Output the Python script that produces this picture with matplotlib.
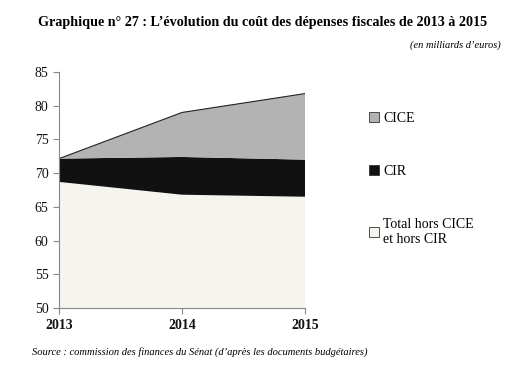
import matplotlib.pyplot as plt
import numpy as np

years = [2013, 2014, 2015]
total_hors = [68.7, 66.8, 66.5]
cir = [3.45, 5.6, 5.5]
cice = [0.0, 6.6, 9.8]

labels = ["CICE", "CIR", "Total hors CICE\net hors CIR"]
colors = ["#b3b3b3", "#111111", "#f5f4ee"]

plt.rcParams['font.family'] = ['Liberation Serif', 'DejaVu Serif']

fig = plt.figure(figsize=(5.19, 3.67), dpi=100)
ax = fig.add_axes([0.1137, 0.1608, 0.474, 0.643])

y0 = np.full(len(years), 50.0)
y1 = np.array(total_hors)
y2 = y1 + np.array(cir)
y3 = y2 + np.array(cice)

h_tot = ax.fill_between(years, y0, y1, facecolor=colors[2], edgecolor="none")
h_cir = ax.fill_between(years, y1, y2, facecolor=colors[1], edgecolor="none")
h_cice = ax.fill_between(years, y2, y3, facecolor=colors[0], edgecolor="none")
ax.plot(years, y3, color="#222222", lw=0.8)
ax.plot([years[-1], years[-1]], [50, y3[-1]], color="#222222", lw=0.6)

ax.set_xlim(2013, 2015)
ax.set_ylim(50, 85)
ax.set_yticks(range(50, 90, 5))
ax.set_xticks(years)
for s in ["top", "right"]:
    ax.spines[s].set_visible(False)
for s in ["left", "bottom"]:
    ax.spines[s].set_color("#888888")
    ax.spines[s].set_linewidth(0.8)
ax.tick_params(axis="both", colors="#888888", labelcolor="#111111",
               labelsize=10, length=4, width=0.8)
ax.tick_params(axis="x", pad=4)
for lab in ax.get_xticklabels():
    lab.set_fontweight("bold")

leg = fig.legend([h_cice, h_cir, h_tot], labels, loc="upper left",
                 bbox_to_anchor=(0.686, 0.73), frameon=False,
                 fontsize=10, handlelength=0.75, handleheight=0.75,
                 handletextpad=0.3, labelspacing=2.9)
for p in leg.get_patches():
    p.set_edgecolor("#333333")
    p.set_linewidth(0.6)

fig.text(0.505, 0.94, "Graphique n° 27 : L\u2019évolution du coût des dépenses fiscales de 2013 à 2015",
         ha="center", va="center", fontsize=10.2, fontweight="bold")
fig.text(0.965, 0.876, "(en milliards d\u2019euros)", ha="right", va="center",
         fontsize=7.5, style="italic")
fig.text(0.062, 0.04, "Source : commission des finances du Sénat (d\u2019après les documents budgétaires)",
         ha="left", va="center", fontsize=7.6, style="italic")

fig.savefig("out.png", dpi=100)
